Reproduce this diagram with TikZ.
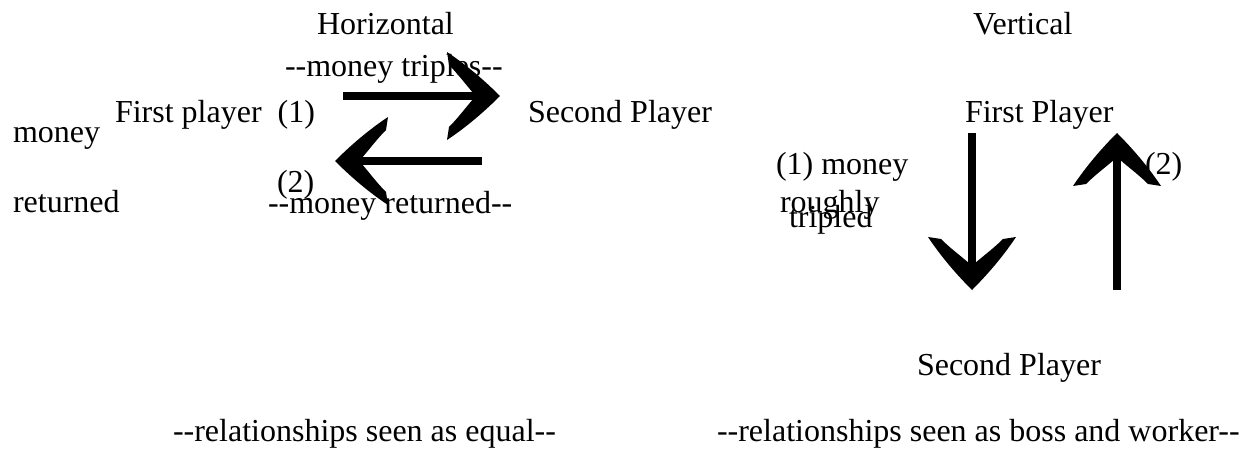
\documentclass[tikz,border=0pt]{standalone}
\usepackage{fontspec}
\setmainfont{Liberation Serif}
\usetikzlibrary{calc}
\tikzset{
  lbl/.style={anchor=base west, inner sep=0pt, outer sep=0pt, font=\fontsize{32}{38}\selectfont},
  shaft/.style={line width=8.5pt, black},
  barbhead/.pic={
    \fill[black] (0,0) .. controls (-20,20) and (-38,34) .. (-53,44) -- (-51,31)
      .. controls (-40,20) and (-31,7) .. (-24,0)
      .. controls (-31,-7) and (-40,-20) .. (-51,-31) -- (-53,-44)
      .. controls (-38,-34) and (-20,-20) .. (0,0) -- cycle;
  }
}
\begin{document}
\begin{tikzpicture}[x=1pt,y=1pt]
\useasboundingbox (0,0) rectangle (1243,448);
% texts (left: x, baseline: 448 - y_image)
\node[lbl] (horiz) at (317,413) {Horizontal};
\node[lbl] (mtrip) at (285,371) {-{}-money triples-{}-};
\node[lbl] (fp1) at (115,325) {First player~~(1)};
\node[lbl] (money) at (13,305) {money};
\node[lbl] (returned) at (13,236) {returned};
\node[lbl] (two) at (277,255) {(2)};
\node[lbl] (mret) at (268,235) {-{}-money returned-{}-};
\node[lbl] (sp1) at (528,325) {Second Player};
\node[lbl] (vert) at (973,413) {Vertical};
\node[lbl] (fp2) at (965,325) {First Player};
\node[lbl] (onemoney) at (776,273) {(1) money};
\node[lbl] (roughly) at (780,236) {roughly};
\node[lbl] (tripled) at (789,221) {tripled};
\node[lbl] (twor) at (1145,273) {(2)};
\node[lbl] (sp2) at (917,73) {Second Player};
\node[lbl] (releq) at (173,7) {-{}-relationships seen as equal-{}-};
\node[lbl] (relboss) at (717,7) {-{}-relationships seen as boss and worker-{}-};
% arrow end points
\coordinate (a1) at (343,352); \coordinate (a2) at (500,352);
\coordinate (b1) at (482,287); \coordinate (b2) at (335,287);
\coordinate (c1) at (972,315); \coordinate (c2) at (972,158);
\coordinate (d1) at (1117,158); \coordinate (d2) at (1117,315);
% shafts
\draw[shaft] (a1) -- ($(a2)!18pt!(a1)$);
\draw[shaft] (b1) -- ($(b2)!18pt!(b1)$);
\draw[shaft] (c1) -- ($(c2)!18pt!(c1)$);
\draw[shaft] (d1) -- ($(d2)!18pt!(d1)$);
% heads
\pic[rotate=0] at (a2) {barbhead};
\pic[rotate=180] at (b2) {barbhead};
\pic[rotate=-90] at (c2) {barbhead};
\pic[rotate=90] at (d2) {barbhead};
\end{tikzpicture}
\end{document}
